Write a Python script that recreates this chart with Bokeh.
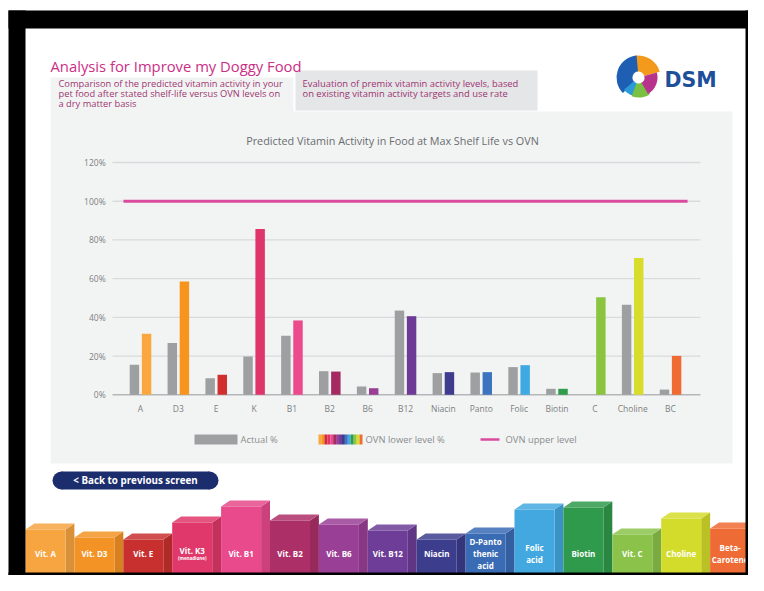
import numpy as np
from bokeh.plotting import figure
from bokeh.models import Range1d
from bokeh.core.properties import value
from bokeh.embed import file_html
from bokeh.resources import INLINE

# ---------------- data ----------------
categories = ["A", "D3", "E", "K", "B1", "B2", "B6", "B12", "Niacin", "Panto",
              "Folic", "Biotin", "C", "Choline", "BC"]
actual_pct = [15.5, 26.7, 8.6, 19.8, 30.5, 12.2, 4.3, 43.5, 11.2, 11.5,
              14.3, 3.1, 0.0, 46.5, 2.7]
ovn_lower_pct = [31.5, 58.5, 10.3, 85.7, 38.4, 12.0, 3.4, 40.6, 11.7, 11.7,
                 15.3, 3.1, 50.4, 70.6, 20.1]
ovn_upper_pct = 100
y_tick_values = [0, 20, 40, 60, 80, 100, 120]
y_tick_labels = ["0%", "20%", "40%", "60%", "80%", "100%", "120%"]
ovn_colors = ["#f9a73e", "#f7941d", "#d12f2f", "#e0356b", "#eb4b8d", "#a52a62",
              "#993f96", "#6d3a96", "#3f3b8f", "#3d74bf", "#3fa9e3", "#2f9d4b",
              "#8bc540", "#d8dc2a", "#f06b34"]
actual_color = "#9d9fa1"
upper_color = "#da4b9e"
chart_title = "Predicted Vitamin Activity in Food at Max Shelf Life vs OVN"
legend_labels = ["Actual %", "OVN lower level %", "OVN upper level"]
page_title = "Analysis for Improve my Doggy Food"
intro_left = ["Comparison of the predicted vitamin activity in your",
              "pet food after stated shelf-life versus OVN levels on",
              "a dry matter basis"]
intro_right = ["Evaluation of premix vitamin activity levels, based",
               "on existing vitamin activity targets and use rate"]
back_label = "< Back to previous screen"
menu_labels = ["Vit. A", "Vit. D3", "Vit. E", "Vit. K3", "Vit. B1", "Vit. B2",
               "Vit. B6", "Vit. B12", "Niacin", "D-Panto\nthenic\nacid",
               "Folic\nacid", "Biotin", "Vit. C", "Choline", "Beta-\nCarotene"]
menu_colors = ["#f7a541", "#f39325", "#c8302f", "#e0386a", "#e84a8c", "#ad2f68",
               "#9a3f96", "#6e3d97", "#3d3d8e", "#3a6bb5", "#43a8e0", "#2f9a4c",
               "#8bc34a", "#d4dc2b", "#ef6b35"]

# ---------------- layout / style ----------------
W, H = 748, 575
X0, Y0 = 0, 0          # page-pixel position of the canvas' top-left corner
FONT = value("Open Sans")
menu_tops = [523, 531, 533, 516, 500, 514, 518, 524, 533, 527, 503, 501, 528, 512, 522]


def shade(hex_color, f):
    h = hex_color.lstrip("#")
    r, g, b = (int(h[i:i + 2], 16) for i in (0, 2, 4))
    if f >= 0:
        r, g, b = (int(c + (255 - c) * f) for c in (r, g, b))
    else:
        r, g, b = (int(c * (1 + f)) for c in (r, g, b))
    return "#%02x%02x%02x" % (r, g, b)


p = figure(width=W, height=H, x_range=Range1d(X0, X0 + W), y_range=Range1d(Y0 + H, Y0),
           min_border=0, toolbar_location=None, output_backend="svg",
           x_axis_location=None, y_axis_location=None)
p.grid.visible = False
p.outline_line_color = None
p.background_fill_color = "white"
p.border_fill_color = "white"

# ---- panels ----
p.patch(x=[50, 293, 293, 732, 732, 50], y=[77, 77, 111, 111, 463, 463],
        fill_color="#f2f4f4", line_color=None)
p.quad(left=[295], right=[537], top=[70], bottom=[110], fill_color="#e4e6e8", line_color=None)

# ---- header texts ----
p.text(x=[50], y=[65], text=[page_title], text_font=FONT, text_font_size="14.8px",
       text_color="#cc2e85", text_baseline="middle")
p.text(x=[58] * 3, y=[83, 93, 103], text=intro_left, text_font=FONT, text_font_size="9.3px",
       text_color="#9e3470", text_baseline="middle")
p.text(x=[302] * 2, y=[83, 93], text=intro_right, text_font=FONT, text_font_size="9.4px",
       text_color="#9e3470", text_baseline="middle")

# ---- DSM logo (angles as seen on screen, counter-clockwise from 3 o'clock) ----
cxl, cyl = 638, 77
logo = [("#f39a1d", 15, 100, 22), ("#1e5fb4", 95, 225, 22), ("#2c9ad8", 220, 255, 19),
        ("#7ac143", 250, 305, 20), ("#b8348c", 300, 375, 19)]
for col, s, e, r in logo:
    p.annular_wedge(x=[cxl], y=[cyl], inner_radius=6, outer_radius=r,
                    start_angle=np.radians(s), end_angle=np.radians(e),
                    fill_color=col, line_color=None)
p.text(x=[664], y=[79], text=["DSM"], text_font=value("DejaVu Sans"), text_font_style="bold",
       text_font_size="20.5px", text_color="#1d4f9b", text_baseline="middle")

# ---- chart (own scales) ----
n = len(categories)
idx = np.arange(n)
CAT0, STEP = 140.0, 37.86      # page px of first category, px per category
ZERO, PXU = 394.3, 1.936       # page px of 0 %, px per percent
p.extra_x_ranges = {"cx": Range1d((X0 - CAT0) / STEP, (X0 + W - CAT0) / STEP)}
p.extra_y_ranges = {"cy": Range1d((ZERO - (Y0 + H)) / PXU, (ZERO - Y0) / PXU)}
ch = dict(x_range_name="cx", y_range_name="cy")

gl, gr = -0.74, n - 1 + 0.79
gv = y_tick_values[1:]
p.segment(x0=[gl] * len(gv), x1=[gr] * len(gv), y0=gv, y1=gv,
          line_color="#d8dadb", line_width=1.4, **ch)
p.segment(x0=[gl], x1=[gr], y0=[0], y1=[0], line_color="#b4b6b8", line_width=1.5, **ch)

p.vbar(x=idx - 0.16, top=actual_pct, bottom=0, width=0.25,
       fill_color=actual_color, line_color=None, **ch)
p.vbar(x=idx + 0.16, top=ovn_lower_pct, bottom=0, width=0.25,
       fill_color=ovn_colors, line_color=None, **ch)
p.segment(x0=[-0.45], x1=[n - 1 + 0.45], y0=[ovn_upper_pct], y1=[ovn_upper_pct],
          line_color=upper_color, line_width=3, **ch)

p.text(x=[-0.92] * len(y_tick_values), y=y_tick_values, text=y_tick_labels,
       text_align="right", text_baseline="middle", text_font=FONT, text_font_size="8.5px",
       text_color="#7d7f81", **ch)
p.text(x=idx, y=[-14 / PXU] * n, text=categories, text_align="center",
       text_baseline="middle", text_font=FONT, text_font_size="8.5px", text_color="#7d7f81", **ch)

p.text(x=[392], y=[140], text=[chart_title], text_align="center", text_baseline="middle",
       text_font=FONT, text_font_size="10.8px", text_color="#6a6c6e")

# ---- legend ----
p.quad(left=[194], right=[237], top=[434], bottom=[444], fill_color=actual_color, line_color=None)
sw = 44 / n
p.quad(left=[318 + i * sw for i in range(n)], right=[318 + (i + 1) * sw for i in range(n)],
       top=[434] * n, bottom=[444] * n, fill_color=ovn_colors, line_color=None)
p.segment(x0=[480], x1=[499], y0=[439], y1=[439], line_color=upper_color, line_width=2.5)
p.text(x=[240, 365, 505], y=[439] * 3, text=legend_labels, text_baseline="middle",
       text_font=FONT, text_font_size="9.4px", text_color="#8a8c8e")

# ---- back button ----
p.quad(left=[61], right=[209], top=[471], bottom=[489], fill_color="#1c2d6e", line_color=None)
p.circle(x=[61, 209], y=[480, 480], radius=9, fill_color="#1c2d6e", line_color=None)
p.text(x=[135], y=[480], text=[back_label], text_align="center", text_baseline="middle",
       text_font=FONT, text_font_size="9.8px", text_color="white", text_font_style="bold")

# ---- bottom menu blocks ----
BASE, BX0, BSTEP, FRONT, DEPTH = 578, 25, 48.9, 40, 6
for i, (lab, col, top) in enumerate(zip(menu_labels, menu_colors, menu_tops)):
    x0 = BX0 + i * BSTEP
    x1 = x0 + FRONT
    x2 = x0 + BSTEP
    ft = top + DEPTH
    p.patch(x=[x1, x2, x2, x1], y=[ft, top, BASE, BASE], fill_color=shade(col, -0.12), line_color=None)
    p.patch(x=[x0, x1, x2, x0 + (x2 - x1)], y=[ft, ft, top, top], fill_color=shade(col, 0.15), line_color=None)
    p.quad(left=[x0], right=[x1], top=[ft], bottom=[BASE], fill_color=col, line_color=None)
    if lab == "Vit. K3":
        p.text(x=[x0 + FRONT / 2], y=[550], text=[lab], text_align="center", text_baseline="middle",
               text_font=FONT, text_font_size="8px", text_color="white", text_font_style="bold")
        p.text(x=[x0 + FRONT / 2], y=[557], text=["(menadione)"], text_align="center", text_baseline="middle",
               text_font=FONT, text_font_size="4.5px", text_color="white", text_font_style="bold")
    else:
        p.text(x=[x0 + FRONT / 2], y=[553], text=[lab], text_align="center", text_baseline="middle",
               text_font=FONT, text_font_size="8px", text_color="white", text_font_style="bold",
               text_line_height=1.1)

# ---- black frame (left/top full, right/bottom as far as the canvas reaches) ----
p.quad(left=[8, 8, 8, 745], right=[764, 25, 764, 764], top=[10, 10, 572, 10],
       bottom=[28, 591, 591, 591], fill_color="black", line_color=None)

open("out.html", "w").write(file_html(p, INLINE))
